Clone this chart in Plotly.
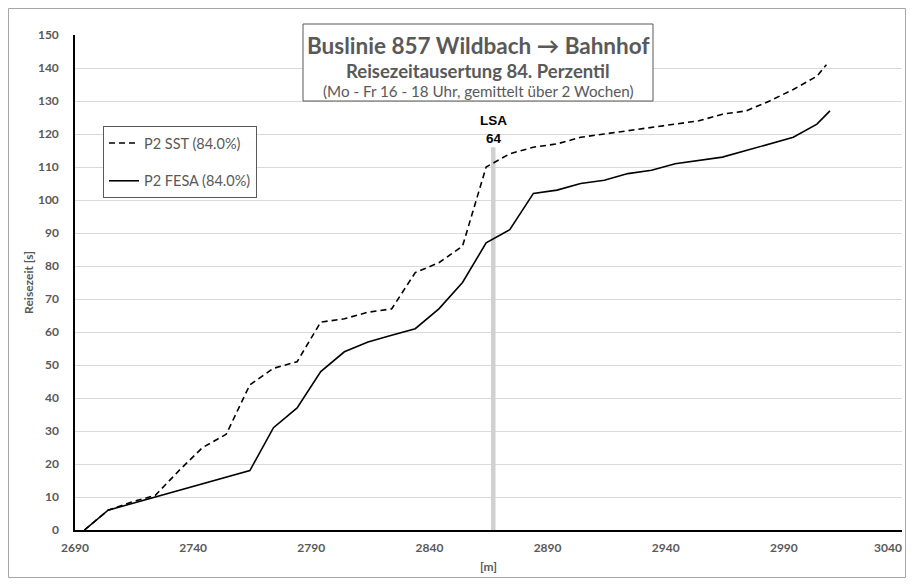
import plotly.graph_objects as go

# ---- data ----
dist_sst = [2694, 2704, 2714, 2724, 2734, 2744, 2754, 2764, 2774, 2784, 2794, 2804,
            2814, 2824, 2834, 2844, 2854, 2864, 2874, 2884, 2894, 2904, 2914, 2924,
            2934, 2944, 2954, 2964, 2974, 2984, 2994, 3004, 3008]
time_sst = [0, 6, 8.5, 10.5, 18, 25, 29, 44, 49, 51, 63, 64,
            66, 67, 78, 81, 86, 110, 114, 116, 117, 119, 120, 121,
            122, 123, 124, 126, 127, 130, 133.5, 137.5, 141]

dist_fesa = [2694, 2704, 2764, 2774, 2784, 2794, 2804, 2814, 2824, 2834, 2844, 2854,
             2864, 2874, 2884, 2894, 2904, 2914, 2924, 2934, 2944, 2954, 2964, 2974,
             2984, 2994, 3004, 3009.5]
time_fesa = [0, 6, 18, 31, 37, 48, 54, 57, 59, 61, 67, 75,
             87, 91, 102, 103, 105, 106, 108, 109, 111, 112, 113, 115,
             117, 119, 123, 127]

lsa_x = [2867, 2867]
lsa_y = [0, 116]
lsa_label = "LSA<br>64"

series_names = ["P2 SST (84.0%)", "P2 FESA (84.0%)"]
x_tick_vals = [2690, 2740, 2790, 2840, 2890, 2940, 2990, 3040]
y_tick_vals = list(range(0, 151, 10))

GRAY = "#595959"
FONT = "Lato"

# page has an 8px body margin: figure occupies page x 8..906, y 8..578
W, H = 898, 570

fig = go.Figure()

fig.add_trace(go.Scatter(x=lsa_x, y=lsa_y, mode="lines",
                         line=dict(color="#d0d0d0", width=4.5),
                         showlegend=False, hoverinfo="skip"))
fig.add_trace(go.Scatter(x=dist_sst, y=time_sst, mode="lines", name=series_names[0],
                         legendgroup="a",
                         line=dict(color="black", width=1.6, dash="6px,4px")))
fig.add_trace(go.Scatter(x=dist_fesa, y=time_fesa, mode="lines", name=series_names[1],
                         legendgroup="b",
                         line=dict(color="black", width=1.6)))

fig.update_layout(
    width=W, height=H, autosize=False,
    margin=dict(l=67, r=4, t=27, b=48, autoexpand=False),
    paper_bgcolor="white", plot_bgcolor="white",
    font=dict(family=FONT, color=GRAY),
    showlegend=True,
    legend=dict(x=(103 - 75) / 827.0, y=(530 - 126) / 495.0, xanchor="left", yanchor="top",
                bgcolor="white", bordercolor=GRAY, borderwidth=1,
                font=dict(family=FONT, size=14.5, color=GRAY),
                tracegroupgap=16, itemwidth=30),
)

# last tick label (3040) would run past the page edge; it is drawn as a right-aligned note below
x_tick_text = [str(v) for v in x_tick_vals[:-1]] + [""]

fig.update_xaxes(range=[2690, 3040], tickmode="array", tickvals=x_tick_vals,
                 ticktext=x_tick_text,
                 showgrid=False, zeroline=False,
                 showline=True, linecolor="black", linewidth=1.5,
                 ticks="", ticklabelstandoff=6, automargin=False,
                 tickfont=dict(family=FONT, size=12, color=GRAY, weight="bold"),
                 title=dict(text="[m]", standoff=8,
                            font=dict(family=FONT, size=12, color=GRAY, weight="bold")))
fig.update_yaxes(range=[0, 150], tickmode="array", tickvals=y_tick_vals,
                 showgrid=True, gridcolor="#d9d9d9", gridwidth=1, zeroline=False,
                 showline=True, linecolor="black", linewidth=1.5,
                 ticks="", ticklabelstandoff=12, automargin=False,
                 tickfont=dict(family=FONT, size=12, color=GRAY, weight="bold"),
                 title=dict(text="Reisezeit [s]", standoff=2,
                            font=dict(family=FONT, size=12, color=GRAY, weight="bold")))

# helpers: page pixel -> paper coordinates (plot area page x 75..902, y 35..530)
def px_x(p):
    return (p - 75) / 827.0

def px_y(p):
    return (530 - p) / 495.0

fig.add_annotation(x=x_tick_vals[-1], xref="x", y=px_y(547), yref="paper",
                   text="<b>" + str(x_tick_vals[-1]) + "</b>", showarrow=False,
                   xanchor="right", yanchor="middle", xshift=2,
                   font=dict(family=FONT, size=12, color=GRAY))

# outer chart border
fig.add_shape(type="rect", xref="paper", yref="paper",
              x0=px_x(8.5), x1=px_x(905.5), y0=px_y(577.5), y1=px_y(8.5),
              line=dict(color="#a6a6a6", width=1), fillcolor="rgba(0,0,0,0)", layer="below")

# title box
fig.add_shape(type="rect", xref="paper", yref="paper",
              x0=px_x(303), x1=px_x(653), y0=px_y(101), y1=px_y(24),
              line=dict(color=GRAY, width=1), fillcolor="white", layer="above")

cx = px_x(478)
fig.add_annotation(xref="paper", yref="paper", x=cx, y=px_y(45), showarrow=False,
                   text="<b>Buslinie 857 Wildbach → Bahnhof</b>",
                   font=dict(family=FONT, size=22.5, color=GRAY), yanchor="middle")
fig.add_annotation(xref="paper", yref="paper", x=cx, y=px_y(71), showarrow=False,
                   text="<b>Reisezeitausertung 84. Perzentil</b>",
                   font=dict(family=FONT, size=18.5, color=GRAY), yanchor="middle")
fig.add_annotation(xref="paper", yref="paper", x=cx, y=px_y(91.5), showarrow=False,
                   text="(Mo - Fr 16 - 18 Uhr, gemittelt über 2 Wochen)",
                   font=dict(family=FONT, size=15.2, color=GRAY), yanchor="middle")

# LSA label
fig.add_annotation(x=lsa_x[0], y=lsa_y[1], xref="x", yref="y", showarrow=False,
                   text="<b>" + lsa_label + "</b>", yanchor="bottom", yshift=-1,
                   font=dict(family="Liberation Sans", size=13.5, color="black"))

fig.write_html("out.html")
